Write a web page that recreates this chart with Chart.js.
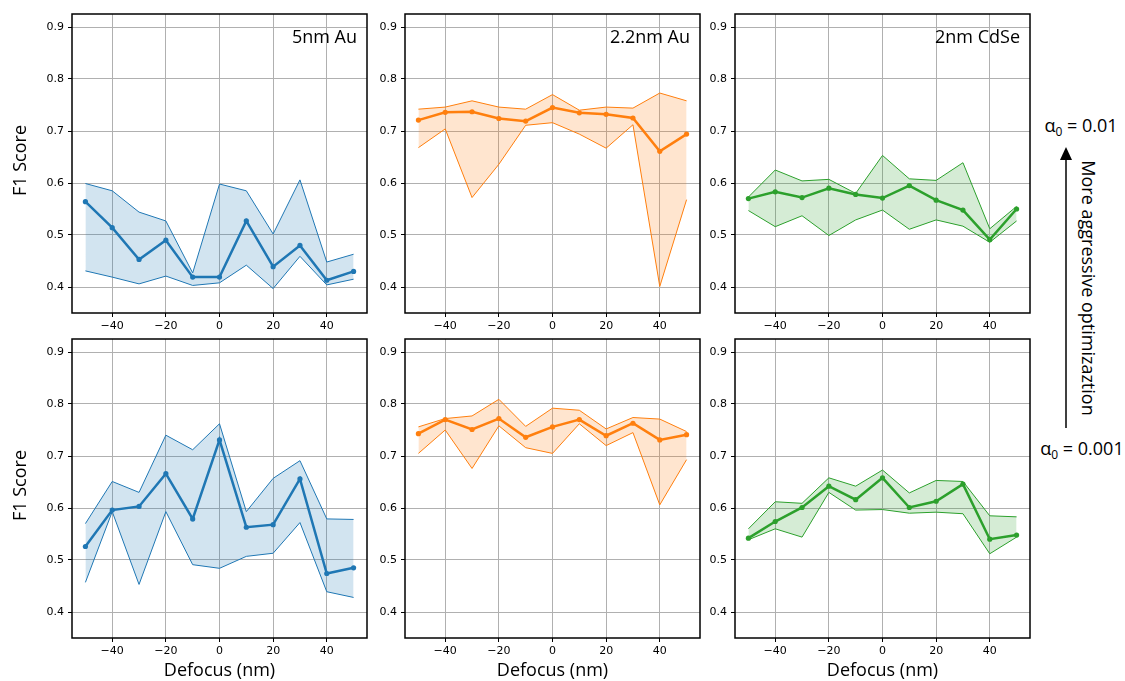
<!DOCTYPE html>
<html>
<head>
<meta charset="utf-8">
<script src="https://cdn.jsdelivr.net/npm/chart.js@4.4.1/dist/chart.umd.min.js"></script>
<style>
  html, body { margin: 0; padding: 0; background: #fff; }
  body { width: 1125px; height: 681px; position: relative; overflow: hidden; font-family: "Open Sans", sans-serif; }
  canvas { position: absolute; }
  .note { position: absolute; font-size: 18px; color: #000; white-space: nowrap; transform: translate(-50%, -50%); line-height: 1; }
  .note sub { font-size: 12px; vertical-align: -4px; line-height: 0; }
  #arrow { position: absolute; left: 0; top: 0; }
</style>
</head>
<body>
<div class="note" style="left:1081px; top:125px;">α<sub>0</sub> = 0.01</div>
<div class="note" style="left:1082px; top:448px;">α<sub>0</sub> = 0.001</div>
<div class="note" style="left:1089px; top:288px; transform: translate(-50%, -50%) rotate(90deg);">More aggressive optimizaztion</div>
<svg id="arrow" width="1125" height="681">
  <line x1="1066" y1="428" x2="1066" y2="158" stroke="#000" stroke-width="1.5"/>
  <polygon points="1066,147 1060,160 1072,160" fill="#000"/>
</svg>

<script>
// Defocus sweep (nm) and axis ticks
const defocus = [-50, -40, -30, -20, -10, 0, 10, 20, 30, 40, 50];
const xTicks = [-40, -20, 0, 20, 40];
const yTicks = [0.4, 0.5, 0.6, 0.7, 0.8, 0.9];
const samples = ['5nm Au', '2.2nm Au', '2nm CdSe'];
const sampleColors = ['#1f77b4', '#ff7f0e', '#2ca02c'];

// alpha0 = 0.01 (top row): mean F1 with upper / lower envelope
const au5HiMean  = [0.564, 0.514, 0.453, 0.490, 0.419, 0.419, 0.527, 0.439, 0.480, 0.413, 0.430];
const au5HiUpper = [0.599, 0.585, 0.544, 0.527, 0.427, 0.598, 0.585, 0.502, 0.606, 0.448, 0.463];
const au5HiLower = [0.431, 0.419, 0.406, 0.421, 0.403, 0.408, 0.442, 0.397, 0.459, 0.404, 0.415];

const au22HiMean  = [0.721, 0.736, 0.737, 0.724, 0.719, 0.745, 0.735, 0.732, 0.725, 0.661, 0.694];
const au22HiUpper = [0.742, 0.746, 0.758, 0.746, 0.742, 0.770, 0.740, 0.746, 0.744, 0.773, 0.758];
const au22HiLower = [0.668, 0.704, 0.572, 0.636, 0.711, 0.716, 0.694, 0.667, 0.712, 0.401, 0.568];

const cdseHiMean  = [0.570, 0.583, 0.572, 0.590, 0.578, 0.571, 0.595, 0.567, 0.548, 0.491, 0.550];
const cdseHiUpper = [0.573, 0.625, 0.604, 0.607, 0.580, 0.653, 0.608, 0.605, 0.639, 0.512, 0.555];
const cdseHiLower = [0.547, 0.516, 0.537, 0.499, 0.529, 0.548, 0.511, 0.529, 0.517, 0.486, 0.527];

// alpha0 = 0.001 (bottom row)
const au5LoMean  = [0.526, 0.596, 0.603, 0.666, 0.579, 0.731, 0.563, 0.568, 0.656, 0.474, 0.485];
const au5LoUpper = [0.570, 0.651, 0.630, 0.740, 0.712, 0.762, 0.593, 0.657, 0.691, 0.579, 0.578];
const au5LoLower = [0.457, 0.593, 0.453, 0.593, 0.491, 0.484, 0.507, 0.513, 0.572, 0.439, 0.428];

const au22LoMean  = [0.743, 0.770, 0.751, 0.772, 0.736, 0.756, 0.770, 0.739, 0.763, 0.731, 0.741];
const au22LoUpper = [0.756, 0.772, 0.777, 0.809, 0.757, 0.792, 0.788, 0.752, 0.774, 0.771, 0.747];
const au22LoLower = [0.705, 0.750, 0.676, 0.758, 0.716, 0.705, 0.762, 0.720, 0.745, 0.606, 0.693];

const cdseLoMean  = [0.542, 0.574, 0.601, 0.642, 0.616, 0.658, 0.601, 0.613, 0.646, 0.540, 0.548];
const cdseLoUpper = [0.560, 0.612, 0.609, 0.658, 0.642, 0.673, 0.629, 0.653, 0.651, 0.585, 0.583];
const cdseLoLower = [0.539, 0.560, 0.544, 0.630, 0.596, 0.597, 0.590, 0.592, 0.589, 0.512, 0.544];

const panels = [
  { row: 0, col: 0, mean: au5HiMean,  upper: au5HiUpper,  lower: au5HiLower },
  { row: 0, col: 1, mean: au22HiMean, upper: au22HiUpper, lower: au22HiLower },
  { row: 0, col: 2, mean: cdseHiMean, upper: cdseHiUpper, lower: cdseHiLower },
  { row: 1, col: 0, mean: au5LoMean,  upper: au5LoUpper,  lower: au5LoLower },
  { row: 1, col: 1, mean: au22LoMean, upper: au22LoUpper, lower: au22LoLower },
  { row: 1, col: 2, mean: cdseLoMean, upper: cdseLoUpper, lower: cdseLoLower },
];

// grid geometry of the axes boxes
const colLeft = [72, 405, 735];
const rowTop = [14, 339];
const boxW = 295, boxH = 299;
const padL = 72, padT = 14, padR = 10, padB = 43;

const tickFont = { family: 'DejaVu Sans', size: 11 };
const labelFont = '18px "Open Sans"';

function rgba(hex, a) {
  const n = parseInt(hex.slice(1), 16);
  return `rgba(${(n >> 16) & 255},${(n >> 8) & 255},${n & 255},${a})`;
}
const pts = arr => arr.map((y, i) => ({ x: defocus[i], y }));
const fmtTick = v => (v < 0 ? '\u2212' + Math.abs(v) : String(v));

// frame around the axes plus sample label and axis titles
const panelDecor = {
  id: 'panelDecor',
  afterDraw(chart, args, opts) {
    const { ctx, chartArea: a } = chart;
    ctx.save();
    ctx.strokeStyle = '#000';
    ctx.lineWidth = 1.5;
    ctx.strokeRect(a.left, a.top, a.right - a.left, a.bottom - a.top);
    ctx.fillStyle = '#000';
    ctx.font = labelFont;
    ctx.textBaseline = 'middle';
    if (opts.label) {
      ctx.textAlign = 'right';
      ctx.fillText(opts.label, a.right - 10, a.top + 24);
    }
    ctx.textAlign = 'center';
    if (opts.yTitle) {
      ctx.save();
      ctx.translate(21, (a.top + a.bottom) / 2 - 3);
      ctx.rotate(-Math.PI / 2);
      ctx.fillText(opts.yTitle, 0, 0);
      ctx.restore();
    }
    if (opts.xTitle) {
      ctx.fillText(opts.xTitle, (a.left + a.right) / 2, a.bottom + 33);
    }
    ctx.restore();
  }
};

panels.forEach(p => {
  const color = sampleColors[p.col];
  const canvas = document.createElement('canvas');
  const cw = boxW + padL + padR, ch = boxH + padT + padB;
  canvas.width = cw; canvas.height = ch;
  canvas.style.width = cw + 'px'; canvas.style.height = ch + 'px';
  canvas.style.left = (colLeft[p.col] - padL) + 'px';
  canvas.style.top = (rowTop[p.row] - padT) + 'px';
  document.body.appendChild(canvas);

  new Chart(canvas, {
    type: 'line',
    data: {
      datasets: [
        { data: pts(p.mean), borderColor: color, backgroundColor: color, borderWidth: 2.5,
          pointRadius: 2.6, pointBorderWidth: 0, pointBackgroundColor: color, fill: false, order: 0 },
        { data: pts(p.upper), borderColor: color, borderWidth: 1, pointRadius: 0,
          fill: 2, backgroundColor: rgba(color, 0.2), order: 1 },
        { data: pts(p.lower), borderColor: color, borderWidth: 1, pointRadius: 0,
          fill: false, order: 2 },
      ]
    },
    options: {
      responsive: false,
      devicePixelRatio: 1,
      animation: false,
      events: [],
      layout: { padding: { left: 0, top: padT, right: padR, bottom: 0 } },
      elements: { line: { tension: 0 } },
      plugins: {
        legend: { display: false },
        tooltip: { enabled: false },
        panelDecor: {
          label: p.row === 0 ? samples[p.col] : '',
          yTitle: p.col === 0 ? 'F1 Score' : '',
          xTitle: p.row === 1 ? 'Defocus (nm)' : ''
        }
      },
      scales: {
        x: {
          type: 'linear', min: -55, max: 55,
          afterBuildTicks: s => { s.ticks = xTicks.map(v => ({ value: v })); },
          afterFit: s => { s.height = padB; },
          ticks: { font: tickFont, color: '#000', padding: 3, maxRotation: 0, callback: fmtTick },
          grid: { color: '#b0b0b0', lineWidth: 1, tickColor: '#000', tickLength: 4, tickWidth: 1 },
          border: { display: false }
        },
        y: {
          type: 'linear', min: 0.35, max: 0.925,
          afterBuildTicks: s => { s.ticks = yTicks.map(v => ({ value: v })); },
          afterFit: s => { s.width = padL; },
          ticks: { font: tickFont, color: '#000', padding: 4, callback: v => v.toFixed(1) },
          grid: { color: '#b0b0b0', lineWidth: 1, tickColor: '#000', tickLength: 4, tickWidth: 1 },
          border: { display: false }
        }
      }
    },
    plugins: [panelDecor]
  });
});
</script>
</body>
</html>
